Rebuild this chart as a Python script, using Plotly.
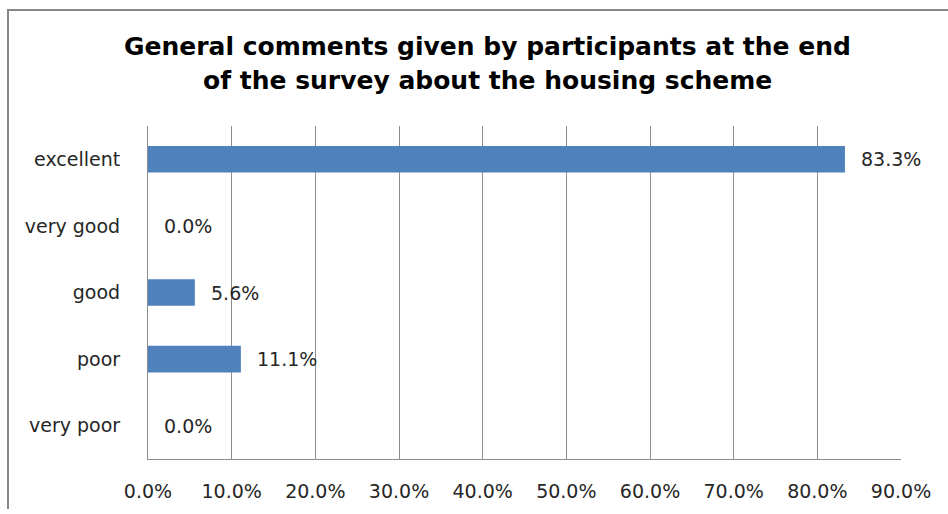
import plotly.graph_objects as go

# Survey responses: share of participants per rating
categories = ["excellent", "very good", "good", "poor", "very poor"]
shares = [0.833, 0.0, 0.056, 0.111, 0.0]
x_ticks = [0.0, 0.1, 0.2, 0.3, 0.4, 0.5, 0.6, 0.7, 0.8, 0.9]
x_tick_labels = ["0.0%", "10.0%", "20.0%", "30.0%", "40.0%", "50.0%",
                 "60.0%", "70.0%", "80.0%", "90.0%"]
title_lines = ["General comments given by participants at the end",
               "of the survey about the housing scheme"]

W, H = 948, 514
L, R, T, B = 148, 47, 126, 49
plot_w = W - L - R
plot_h = H - T - B

BAR_COLOR = "#4F81BD"
GRID_COLOR = "#8C8C8C"
TEXT_COLOR = "#262626"
FONT = "DejaVu Sans"

fig = go.Figure(
    go.Bar(
        x=shares,
        y=categories,
        orientation="h",
        marker=dict(color=BAR_COLOR, line=dict(width=0)),
        hoverinfo="skip",
    )
)

# value labels just past the bar ends
for cat, v in zip(categories, shares):
    fig.add_annotation(
        x=v, y=cat, xref="x", yref="y",
        text=f"{v * 100:.1f}%",
        showarrow=False, xanchor="left", yanchor="middle",
        xshift=14,
        font=dict(family=FONT, size=19, color=TEXT_COLOR),
    )

def px_x(p):
    return (p - L) / plot_w

def px_y(p):
    return (H - B - p) / plot_h

# two-line bold title, one annotation per line
for line, cy in zip(title_lines, [45, 80]):
    fig.add_annotation(
        x=px_x(487), y=px_y(cy), xref="paper", yref="paper",
        text="<b>" + line + "</b>",
        showarrow=False, xanchor="center", yanchor="middle",
        font=dict(family=FONT, size=25, color="#000000"),
    )

# chart frame (top and left edges)
fig.add_shape(type="line", xref="paper", yref="paper",
              x0=px_x(8), x1=px_x(W + 2), y0=px_y(8), y1=px_y(8),
              line=dict(color="#878787", width=2))
fig.add_shape(type="line", xref="paper", yref="paper",
              x0=px_x(8), x1=px_x(8), y0=px_y(7), y1=px_y(H + 2),
              line=dict(color="#878787", width=2))

fig.update_layout(
    width=W, height=H,
    margin=dict(l=L, r=R, t=T, b=B, pad=0),
    paper_bgcolor="white", plot_bgcolor="white",
    showlegend=False,
    bargap=0.6,
    font=dict(family=FONT, size=19, color=TEXT_COLOR),
    xaxis=dict(
        range=[0, 0.9],
        tickvals=x_ticks, ticktext=x_tick_labels,
        showgrid=True, gridcolor=GRID_COLOR, gridwidth=1,
        showline=True, linecolor=GRID_COLOR, linewidth=1,
        zeroline=False, ticks="", ticklabelstandoff=15,
        tickfont=dict(family=FONT, size=19, color=TEXT_COLOR),
        fixedrange=True,
    ),
    yaxis=dict(
        categoryorder="array", categoryarray=categories,
        autorange="reversed",
        showgrid=False, showline=True, linecolor=GRID_COLOR, linewidth=1,
        zeroline=False, ticks="", ticklabelstandoff=23,
        tickfont=dict(family=FONT, size=19, color=TEXT_COLOR),
        fixedrange=True,
    ),
)

fig.write_html("out.html", config=dict(displayModeBar=False))
